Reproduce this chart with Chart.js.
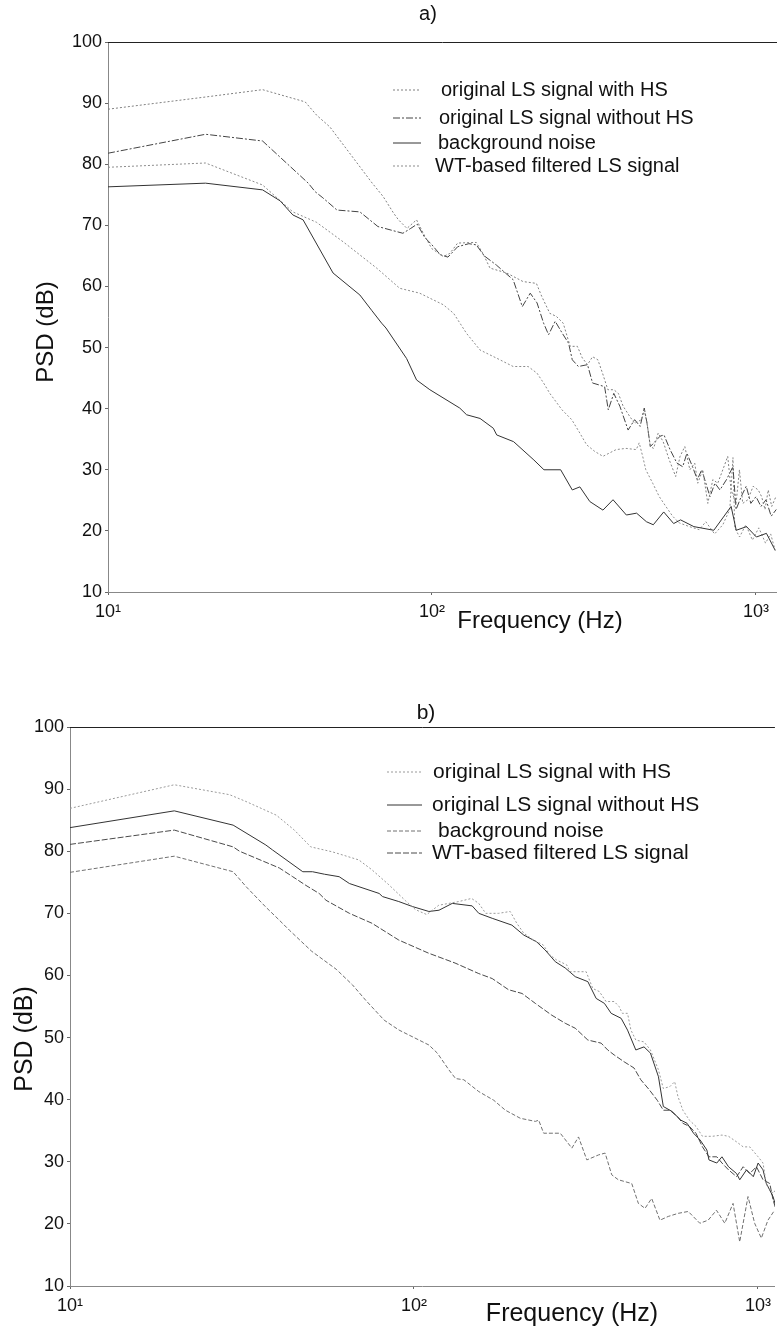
<!DOCTYPE html>
<html>
<head>
<meta charset="utf-8">
<script src="https://cdn.jsdelivr.net/npm/chart.js@4.4.1/dist/chart.umd.min.js"></script>
<style>
  body { margin: 0; background: #fff; }
  canvas { position: absolute; left: 0; }
  #chartA { top: 0; }
  #chartB { top: 650px; }
</style>
</head>
<body>
<canvas id="chartA" width="777" height="650"></canvas>
<canvas id="chartB" width="777" height="683"></canvas>
<script>
// ---- data ----
const seriesNames = ['original LS signal with HS', 'original LS signal without HS', 'background noise', 'WT-based filtered LS signal'];
const xTicks = [10, 100, 1000];
const xTickLabels = ['10\u00b9', '10\u00b2', '10\u00b3'];

// panel a)
const aWithHsFreq = [10, 20, 30, 40.6, 44.1, 48.4, 65.4, 70.7, 76.1, 78.8, 83.7, 89.6, 94, 99.8, 108.4, 113.5, 120, 137, 143.6, 151, 170, 191, 210, 218, 231, 242, 254, 267, 281, 291, 302, 313, 325, 336, 349, 364, 376, 389, 408, 422, 443, 452, 461, 472, 483, 499, 517, 540, 565, 583, 603, 625, 647, 661, 685, 710, 736, 762, 790, 818, 838, 868, 889, 910, 944, 980, 1016, 1041, 1066, 1091, 1118, 1150];
const aWithHsPsd = [89.0, 91.0, 92.2, 90.2, 88.0, 86.1, 76.9, 74.7, 72.0, 70.9, 69.5, 70.9, 68.7, 66.2, 64.9, 65.4, 67.1, 67.2, 65.4, 63.0, 62.2, 60.8, 60.5, 58.4, 55.6, 55.1, 54.0, 50.2, 50.2, 48.3, 47.2, 48.5, 48.0, 45.8, 43.1, 43.1, 42.5, 40.4, 38.7, 37.6, 38.2, 39.8, 37.6, 33.8, 33.5, 36.0, 34.6, 31.6, 28.9, 32.2, 33.8, 30.0, 31.1, 27.8, 30.0, 24.5, 28.4, 27.8, 30.0, 32.2, 26.7, 24.5, 30.0, 24.5, 25.1, 27.3, 26.7, 25.6, 23.5, 26.7, 24.0, 25.5];

const aWithoutHsFreq = [10, 20, 30, 41.5, 43.6, 45.8, 47.7, 50.9, 59.9, 68.1, 81.3, 86, 90, 95, 100, 106, 112, 120, 130, 137, 145, 158, 178, 190, 201, 211, 221, 229, 240, 252, 264, 271, 283, 302, 313, 327, 341, 350, 364, 380, 403, 422, 439, 452, 461, 472, 506, 520, 543, 570, 594, 612, 637, 659, 680, 721, 747, 774, 811, 849, 868, 900, 933, 964, 1000, 1036, 1074, 1114, 1155];
const aWithoutHsPsd = [81.8, 84.9, 83.8, 76.9, 75.5, 74.6, 73.8, 72.5, 72.2, 69.8, 68.7, 69.5, 70.2, 68.0, 66.8, 65.2, 64.8, 66.5, 67.0, 66.8, 65.0, 63.5, 61.1, 56.7, 58.9, 57.3, 54.0, 52.1, 54.3, 52.4, 50.7, 48.0, 46.9, 47.2, 44.2, 43.9, 43.6, 39.8, 42.5, 40.4, 36.5, 38.2, 37.1, 40.1, 37.6, 33.8, 35.5, 35.7, 33.3, 31.1, 30.5, 32.7, 30.5, 28.4, 30.0, 25.6, 27.8, 26.7, 28.4, 30.5, 23.5, 25.6, 27.3, 24.5, 25.6, 24.0, 25.1, 22.4, 23.5];

const aNoiseFreq = [10, 20, 30, 34, 37.2, 40, 49.5, 59.9, 65.1, 69.9, 72.1, 83.5, 89.6, 98.5, 121.8, 127.9, 140.7, 154.6, 158.4, 178.6, 206.3, 221.6, 249.5, 271, 286, 307, 337, 362, 398, 428, 459, 482, 519, 557, 585, 643, 741, 838, 869, 935, 1003, 1077, 1144];
const aNoisePsd = [76.3, 76.9, 75.8, 74.0, 71.7, 70.9, 62.2, 58.6, 56.1, 54.0, 53.2, 48.2, 44.7, 43.1, 40.1, 39.0, 38.4, 36.8, 35.7, 34.6, 31.6, 30.0, 30.0, 26.7, 27.2, 24.8, 23.4, 25.1, 22.6, 22.9, 21.5, 21.0, 23.1, 21.2, 21.8, 20.7, 20.1, 24.0, 20.1, 20.7, 19.0, 19.6, 16.9];

const aFilteredFreq = [10, 20, 30, 33.9, 37.2, 44, 53.2, 67.5, 79.5, 91.6, 108.4, 116.6, 127.9, 140.7, 162, 178, 198, 211, 221, 231, 252, 270, 286, 300, 318, 337, 370, 397, 427, 436, 447, 457, 480, 503, 527, 553, 580, 623, 668, 700, 745, 790, 830, 849, 860, 890, 930, 975, 1020, 1070, 1110, 1150];
const aFilteredPsd = [79.5, 80.2, 76.6, 74.1, 72.2, 70.5, 67.3, 63.0, 59.7, 58.9, 57.0, 55.6, 52.3, 49.6, 48.0, 46.9, 46.9, 45.8, 44.2, 42.5, 39.8, 38.2, 36.0, 34.1, 33.0, 32.2, 33.3, 33.5, 33.3, 34.4, 32.2, 30.0, 27.8, 25.6, 24.0, 22.4, 21.3, 20.7, 20.2, 21.5, 19.5, 21.0, 23.5, 32.0, 20.5, 19.0, 21.0, 18.5, 20.5, 18.0, 19.5, 16.5];

// panel b)
const bWithHsFreq = [10, 20.1, 29.1, 32.5, 39.8, 44.9, 50.1, 57.9, 69.1, 75.5, 84.5, 94.6, 101, 108.9, 118, 135, 147, 154.3, 161.6, 176.2, 190.4, 199, 208.5, 222.6, 237.6, 248.4, 259.6, 277.9, 284.2, 299.7, 316.6, 330.9, 345.9, 361.6, 381.9, 394.6, 403.3, 417.6, 427.2, 441.4, 466.3, 486.8, 513.6, 530.6, 554.3, 572.6, 585.2, 604.8, 631.8, 660.1, 689.6, 736, 785.7, 821, 866.7, 905.5, 946, 1000.8, 1034.3, 1057.7, 1105.8, 1125];
const bWithHsPsd = [86.9, 90.7, 89.1, 88.0, 85.8, 83.4, 80.7, 79.9, 78.6, 77.0, 74.6, 72.0, 70.6, 69.8, 71.3, 71.9, 72.4, 71.6, 70.0, 70.0, 70.3, 68.4, 66.8, 65.7, 64.9, 63.3, 62.5, 61.7, 60.6, 60.6, 60.6, 57.9, 57.4, 55.8, 55.8, 55.0, 53.9, 53.9, 51.2, 49.6, 49.3, 48.0, 44.8, 41.8, 42.1, 42.9, 40.5, 38.3, 36.7, 35.7, 34.1, 34.1, 34.3, 34.1, 33.2, 32.4, 32.4, 30.8, 29.8, 26.3, 24.9, 25.5];

const bWithoutHsFreq = [10, 20.1, 29.8, 37.1, 38.8, 47.5, 50.7, 54.9, 60.6, 64.9, 79.2, 81, 90.3, 98.9, 110.5, 118.2, 129.2, 147.6, 154.3, 168.8, 192.6, 208.5, 227.4, 240.5, 257.6, 275.2, 294.3, 320.2, 338.5, 357.8, 374.3, 400.1, 417.6, 441.4, 466.3, 486.8, 513.6, 530.6, 562.5, 596.7, 621.9, 649.6, 678.9, 710.2, 720.2, 759, 785.7, 821, 866.7, 885.1, 926.2, 969.1, 1000.8, 1034.3, 1057.7, 1105.8, 1125];
const bWithoutHsPsd = [83.8, 86.5, 84.2, 81.0, 80.2, 76.7, 76.7, 76.3, 75.9, 74.8, 73.2, 72.7, 71.9, 71.1, 70.3, 70.5, 71.6, 71.2, 70.0, 69.2, 68.1, 66.5, 65.4, 64.1, 62.2, 61.2, 59.8, 59.0, 56.3, 55.5, 53.9, 53.1, 51.2, 48.0, 48.5, 47.5, 43.7, 38.9, 38.1, 36.7, 36.2, 34.6, 33.5, 31.9, 30.3, 29.8, 30.8, 29.2, 28.1, 27.1, 28.7, 27.6, 29.8, 28.7, 26.5, 24.4, 23.0];

const bNoiseFreq = [10, 20.1, 29.8, 32.5, 37.1, 40.6, 43.4, 50.4, 59.4, 66.2, 72.4, 81.9, 90.5, 110.5, 116.9, 126.3, 132.1, 139.6, 154.3, 170.6, 184.4, 203.8, 225.3, 230.4, 238.2, 266.2, 287.7, 300.8, 318, 343.8, 359.4, 375.7, 392.8, 429.5, 449, 469.5, 490.8, 518.8, 548.5, 586.4, 626.9, 677.6, 716.4, 757.3, 800.6, 846.3, 884.8, 935.4, 977.9, 1022.6, 1069, 1117.6];
const bNoisePsd = [76.6, 79.2, 76.7, 74.3, 71.0, 68.9, 67.3, 63.9, 61.0, 58.5, 56.0, 52.8, 51.2, 48.8, 47.5, 44.8, 43.4, 43.2, 41.3, 39.9, 38.3, 37.0, 36.5, 36.7, 34.6, 34.6, 32.2, 34.0, 30.3, 31.1, 31.4, 27.9, 27.1, 26.5, 23.3, 22.5, 24.1, 20.6, 21.2, 21.7, 22.0, 20.1, 20.6, 22.2, 20.1, 23.3, 17.1, 24.4, 20.1, 17.7, 20.6, 22.2];

const bFilteredFreq = [10, 20.1, 29.8, 31.1, 40.6, 44.4, 48.5, 53, 55.5, 64.9, 75.5, 90.3, 110.1, 131.6, 154.3, 168.8, 188.3, 206.1, 225.3, 251.5, 275.2, 294.3, 320.2, 350, 365.7, 381.9, 408.1, 436.2, 456.4, 482.9, 509.6, 530.6, 554.3, 582, 604.8, 631.8, 660.1, 689.6, 720.2, 759, 785.7, 821, 866.7, 905.5, 946, 989.8, 1034.3, 1082.2, 1105.8, 1125];
const bFilteredPsd = [81.1, 83.4, 80.7, 80.0, 77.3, 75.9, 74.5, 73.2, 72.1, 70.0, 68.4, 65.7, 63.6, 62.0, 60.3, 59.5, 57.7, 57.1, 55.5, 53.6, 52.3, 51.5, 49.6, 49.1, 48.0, 47.2, 46.1, 45.1, 43.2, 41.6, 39.9, 38.3, 38.3, 37.3, 36.2, 35.7, 34.6, 32.4, 30.8, 30.8, 29.8, 28.7, 27.6, 29.2, 28.1, 29.2, 27.1, 26.5, 23.9, 22.5];

// ---- helpers ----
const FONT = '"Liberation Sans", Arial, Helvetica, sans-serif';

function toPoints(freq, psd) {
    return freq.map((f, i) => ({ x: f, y: psd[i] }));
}

// draws panel title, axis titles, top frame line
const panelText = {
    id: 'panelText',
    afterDraw(chart, args, o) {
        const ctx = chart.ctx;
        const area = chart.chartArea;
        ctx.save();
        // top edge of the box
        ctx.strokeStyle = '#222';
        ctx.lineWidth = 1;
        ctx.beginPath();
        ctx.moveTo(area.left, area.top + 0.5);
        ctx.lineTo(area.right, area.top + 0.5);
        ctx.stroke();

        ctx.fillStyle = '#111';
        ctx.textAlign = 'center';
        ctx.textBaseline = 'middle';
        ctx.font = o.titleSize + 'px ' + FONT;
        ctx.fillText(o.title, o.titleX, o.titleY);

        ctx.font = o.axisSize + 'px ' + FONT;
        ctx.fillText('Frequency (Hz)', o.xTitleX, o.xTitleY);

        ctx.translate(o.yTitleX, o.yTitleY);
        ctx.rotate(-Math.PI / 2);
        ctx.fillText('PSD (dB)', 0, 0);
        ctx.restore();
    }
};

// legend drawn inside the plot, same line styles as the datasets
const innerLegend = {
    id: 'innerLegend',
    afterDraw(chart, args, o) {
        const ctx = chart.ctx;
        ctx.save();
        ctx.font = o.size + 'px ' + FONT;
        ctx.textBaseline = 'middle';
        ctx.textAlign = 'left';
        chart.data.datasets.forEach((ds, i) => {
            const y = o.rows[i];
            ctx.strokeStyle = ds.borderColor;
            ctx.lineWidth = ds.borderWidth;
            ctx.setLineDash(ds.borderDash || []);
            ctx.beginPath();
            ctx.moveTo(o.lineX0, y);
            ctx.lineTo(o.lineX1, y);
            ctx.stroke();
            ctx.setLineDash([]);
            ctx.fillStyle = '#111';
            ctx.fillText(ds.label, o.textX[i], y);
        });
        ctx.restore();
    }
};

function makePanel(canvasId, series, styles, p) {
    const ctx = document.getElementById(canvasId).getContext('2d');
    const datasets = series.map((s, i) => ({
        label: seriesNames[i],
        data: toPoints(s[0], s[1]),
        borderColor: styles[i].color,
        borderDash: styles[i].dash,
        borderWidth: 1,
        pointRadius: 0,
        tension: 0,
        fill: false
    }));

    return new Chart(ctx, {
        type: 'line',
        data: { datasets: datasets },
        plugins: [panelText, innerLegend],
        options: {
            responsive: false,
            animation: false,
            events: [],
            layout: { padding: { top: p.padTop, right: 0, left: 0, bottom: 0 } },
            plugins: {
                legend: { display: false },
                tooltip: { enabled: false },
                panelText: p.text,
                innerLegend: p.legend
            },
            scales: {
                x: {
                    type: 'logarithmic',
                    min: 10,
                    max: p.xMax,
                    afterBuildTicks: s => { s.ticks = xTicks.map(v => ({ value: v })); },
                    afterFit: s => { s.height = p.xAxisHeight; },
                    ticks: {
                        autoSkip: false,
                        maxRotation: 0,
                        padding: 6,
                        color: '#111',
                        font: { family: FONT, size: 18 },
                        callback: v => xTickLabels[xTicks.indexOf(v)] || ''
                    },
                    grid: { drawOnChartArea: false, tickLength: 3, color: '#666' },
                    border: { color: '#888', width: 1 }
                },
                y: {
                    min: 10,
                    max: 100,
                    afterFit: s => { s.width = p.yAxisWidth; },
                    ticks: {
                        stepSize: 10,
                        padding: 3,
                        color: '#111',
                        font: { family: FONT, size: 18 }
                    },
                    grid: { drawOnChartArea: false, tickLength: 3, color: '#666' },
                    border: { color: '#888', width: 1 }
                }
            }
        }
    });
}

window.addEventListener('load', () => {
    makePanel('chartA',
        [[aWithHsFreq, aWithHsPsd], [aWithoutHsFreq, aWithoutHsPsd], [aNoiseFreq, aNoisePsd], [aFilteredFreq, aFilteredPsd]],
        [
            { color: '#808080', dash: [2, 2] },
            { color: '#444444', dash: [7, 2, 2, 2] },
            { color: '#333333', dash: [] },
            { color: '#8c8c8c', dash: [2, 2] }
        ],
        {
            padTop: 42, xMax: 1161, xAxisHeight: 58, yAxisWidth: 108,
            text: { title: 'a)', titleSize: 20, titleX: 428, titleY: 14, axisSize: 24, xTitleX: 540, xTitleY: 621, yTitleX: 46, yTitleY: 332 },
            legend: { size: 20, lineX0: 393, lineX1: 421, textX: [441, 439, 438, 435], rows: [90, 118, 143, 166] }
        });

    makePanel('chartB',
        [[bWithHsFreq, bWithHsPsd], [bWithoutHsFreq, bWithoutHsPsd], [bNoiseFreq, bNoisePsd], [bFilteredFreq, bFilteredPsd]],
        [
            { color: '#9a9a9a', dash: [2, 2] },
            { color: '#333333', dash: [] },
            { color: '#707070', dash: [4, 2] },
            { color: '#4a4a4a', dash: [6, 2] }
        ],
        {
            padTop: 77, xMax: 1120, xAxisHeight: 47, yAxisWidth: 70,
            text: { title: 'b)', titleSize: 21, titleX: 426, titleY: 63, axisSize: 25, xTitleX: 572, xTitleY: 664, yTitleX: 25, yTitleY: 389 },
            legend: { size: 21, lineX0: 387, lineX1: 422, textX: [433, 432, 438, 432], rows: [122, 155, 181, 203] }
        });
});
</script>
</body>
</html>
